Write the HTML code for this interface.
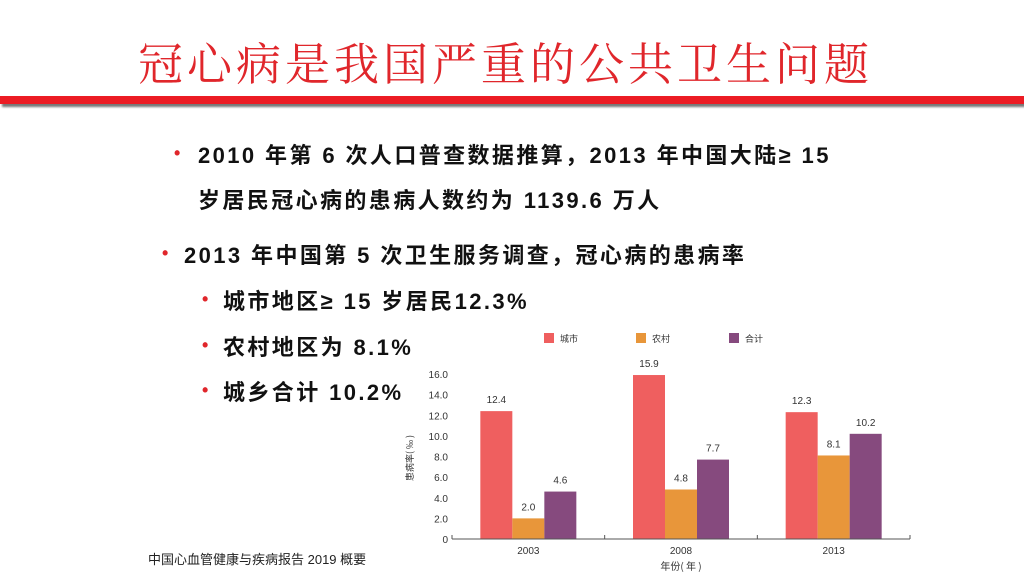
<!DOCTYPE html>
<html><head><meta charset="utf-8"><style>
body{margin:0;width:1024px;height:576px;overflow:hidden;background:#fff;position:relative;font-family:"Liberation Sans","Noto Sans CJK SC",sans-serif}
.t{position:absolute;white-space:nowrap}
.title{left:138px;top:28px;font-family:"Liberation Serif","Noto Serif CJK SC",serif;font-size:45px;color:#e0262b;letter-spacing:4px}
.b{font-weight:bold;font-size:22px;color:#111;letter-spacing:2.4px}
.dot{position:absolute;color:#e0262b;font-size:18px;font-weight:bold}
</style></head><body>
<div class="t title">冠心病是我国严重的公共卫生问题</div>
<div style="position:absolute;left:0;top:96px;width:1024px;height:8px;background:#ec1c24;box-shadow:2px 3px 2px #777"></div>

<div class="dot" style="left:174px;top:143px">•</div>
<div class="t b" style="left:198px;top:138px">2010 年第 6 次人口普查数据推算，2013 年中国大陆≥ 15</div>
<div class="t b" style="left:198px;top:183px">岁居民冠心病的患病人数约为 1139.6 万人</div>
<div class="dot" style="left:162px;top:243px">•</div>
<div class="t b" style="left:184px;top:238px">2013 年中国第 5 次卫生服务调查，冠心病的患病率</div>
<div class="dot" style="left:202px;top:289px">•</div>
<div class="t b" style="left:223px;top:284px">城市地区≥ 15 岁居民12.3%</div>
<div class="dot" style="left:202px;top:335px">•</div>
<div class="t b" style="left:223px;top:330px">农村地区为 8.1%</div>
<div class="dot" style="left:202px;top:380px">•</div>
<div class="t b" style="left:223px;top:375px">城乡合计 10.2%</div>
<div class="t" style="left:148px;top:549px;font-size:13px;color:#222">中国心血管健康与疾病报告 2019 概要</div>

<svg id="chart" width="1024" height="576" style="position:absolute;left:0;top:0"></svg>
<script>
const categories=["2003","2008","2013"];
const seriesNames=["城市","农村","合计"];
const urban=[12.4,15.9,12.3];
const rural=[2.0,4.8,8.1];
const total=[4.6,7.7,10.2];
const yTicks=[0,2,4,6,8,10,12,14,16];
const colors=["#ef5f5f","#e8963a","#864a7e"];
const svg=document.getElementById('chart');
const NS="http://www.w3.org/2000/svg";
const x0=452,x1=910,y0=539,yTop=374,yMax=16;
const y=v=>y0-(v/yMax)*(y0-yTop);
const band=(x1-x0)/categories.length;
const bw=32;
function el(tag,attrs,text){const e=document.createElementNS(NS,tag);for(const k in attrs)e.setAttribute(k,attrs[k]);if(text!=null)e.textContent=text;svg.appendChild(e);return e;}
const series=[urban,rural,total];
series.forEach((s,si)=>{s.forEach((v,ci)=>{
 const cx=x0+band*(ci+0.5)+(si-1)*bw;
 const r=el('rect',{x:cx-bw/2,y:y(v),width:bw,height:y0-y(v),fill:colors[si]});
 
 
 const t=el('text',{x:cx,y:y(v)-8,'text-anchor':'middle','font-size':10,fill:'#333','font-family':'Liberation Sans'},v.toFixed(1));
 
 
});});
const ax=el('line',{x1:x0,y1:y0,x2:x1,y2:y0,stroke:'#555','stroke-width':1});


for(let i=0;i<=categories.length;i++){el('line',{x1:x0+band*i,y1:y0-4,x2:x0+band*i,y2:y0,stroke:'#555'});}
categories.forEach((c,i)=>{const t=el('text',{x:x0+band*(i+0.5),y:y0+15,'text-anchor':'middle','font-size':10,fill:'#333','font-family':'Liberation Sans'},c);
 
 });
yTicks.forEach(v=>{const t=el('text',{x:x0-4,y:y(v)+4,'text-anchor':'end','font-size':10,fill:'#333','font-family':'Liberation Sans'},v===0?'0':v.toFixed(1));
 
 });
const yt=el('text',{x:0,y:0,transform:'translate(413,458) rotate(-90)','text-anchor':'middle','font-size':9,fill:'#333','font-family':'Noto Sans CJK SC'},'患病率( ‰ )');


const xt=el('text',{x:681,y:570,'text-anchor':'middle','font-size':10,fill:'#333','font-family':'Noto Sans CJK SC'},'年份( 年 )');


const lx=[544,636,729];
seriesNames.forEach((n,i)=>{
 const r=el('rect',{x:lx[i],y:333,width:10,height:10,fill:colors[i]});
 
 
 const t=el('text',{x:lx[i]+16,y:342,'font-size':9,fill:'#333','font-family':'Noto Sans CJK SC'},n);
 
 
});
</script>
</body></html>
